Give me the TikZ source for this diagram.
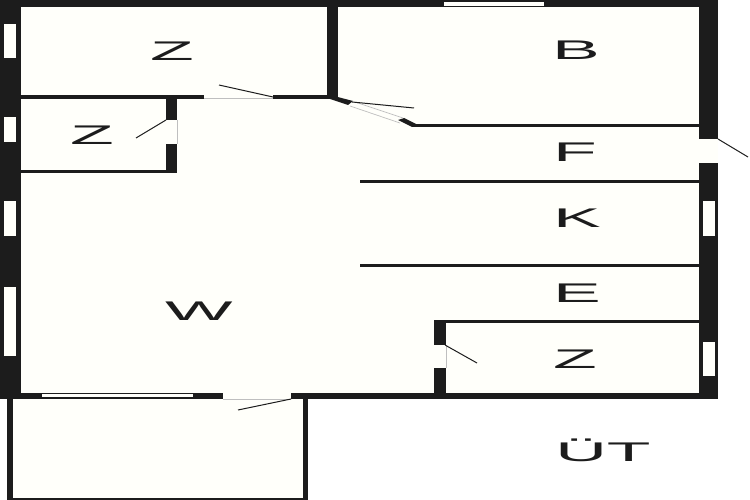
\documentclass[tikz,border=0pt]{standalone}
\usepackage{fontspec}
\setmainfont{Liberation Sans}
\definecolor{wallcol}{HTML}{1C1C1C}
\definecolor{floorcol}{HTML}{FFFFFA}
\tikzset{
    wall/.style={fill=wallcol, draw=none},
    slot/.style={fill=floorcol, draw=none},
    leaf/.style={draw=wallcol, line width=1pt},
    sill/.style={draw=black!25, line width=0.7pt},
    room/.style={font=\fontsize{27}{32}\selectfont, text=wallcol, xscale=2.65, transform shape, inner sep=0pt}
}
\begin{document}
\begin{tikzpicture}[x=1pt,y=-1pt]
    \useasboundingbox (0,0) rectangle (750,500);
    % floor
    \fill[white] (0,0) rectangle (750,500);
    \fill[floorcol] (0,0) rectangle (718,399);
    \fill[floorcol] (7,399) rectangle (308,500);

    % outer walls
    \fill[wall] (0,0) rectangle (718,7);
    \fill[wall] (0,0) rectangle (20.5,399);
    \fill[wall] (699,0) rectangle (718,139);
    \fill[wall] (699,163) rectangle (718,399);
    \fill[wall] (0,393) rectangle (223,399);
    \fill[wall] (291,393) rectangle (718,399);

    % balcony
    \fill[wall] (7,399) rectangle (13,500);
    \fill[wall] (303,399) rectangle (308,500);
    \fill[wall] (7,498) rectangle (308,500);

    % rooms
    \fill[wall] (20,95) rectangle (204,99);
    \fill[wall] (273,95) rectangle (338,99);
    \fill[wall] (327,7) rectangle (338,97);
    \fill[wall] (166,99) rectangle (177,120);
    \fill[wall] (166,144) rectangle (177,173);
    \fill[wall] (20,170) rectangle (177,173);
    \fill[wall] (330,95) -- (353,101) -- (348,105) -- (330,99) -- cycle;
    \fill[wall] (398,120) -- (404,118) -- (416,124) -- (412,127) -- cycle;
    \fill[wall] (412,124) rectangle (699,127);
    \fill[wall] (360,180) rectangle (699,183);
    \fill[wall] (360,264) rectangle (699,267);
    \fill[wall] (434,320) rectangle (699,323);
    \fill[wall] (434,320) rectangle (446,345);
    \fill[wall] (434,368) rectangle (446,393);

    % windows
    \fill[slot] (4,24) rectangle (16,58);
    \fill[slot] (4,117) rectangle (16,142);
    \fill[slot] (4,201) rectangle (16,236);
    \fill[slot] (4,287) rectangle (16,356);
    \fill[slot] (703,201) rectangle (715,236);
    \fill[slot] (703,342) rectangle (715,376);
    \fill[slot] (444,2) rectangle (544,6);
    \fill[slot] (42,394) rectangle (193,397);

    % doors
    \draw[sill] (204,98.5) -- (273,98.5);
    \draw[sill] (177,120) -- (177,144);
    \draw[sill] (223,399) -- (291,399);
    \draw[sill] (446,345) -- (446,368);
    \draw[sill] (350,106) -- (400,123);
    \draw[sill] (355,102) -- (403,118);
    \draw[leaf] (273,97) -- (219,85);
    \draw[leaf] (166,120) -- (136,138);
    \draw[leaf] (352,102) -- (414,108);
    \draw[leaf] (718,139) -- (748,157);
    \draw[leaf] (291,399) -- (238,410);
    \draw[leaf] (445,345) -- (477,363);

    % labels
    \node[room] (Z1) at (172,51) {Z};
    \node[room] (Z2) at (92,135.5) {Z};
    \node[room] (B) at (576,50) {B};
    \node[room] (F) at (575,152.5) {F};
    \node[room] (K) at (577,218) {K};
    \node[room] (E) at (577,293) {E};
    \node[room] (Z3) at (575,359) {Z};
    \node[room] (W) at (199,311) {W};
    \node[room, anchor=base] (UT) at (603,461) {ÜT};
\end{tikzpicture}
\end{document}
